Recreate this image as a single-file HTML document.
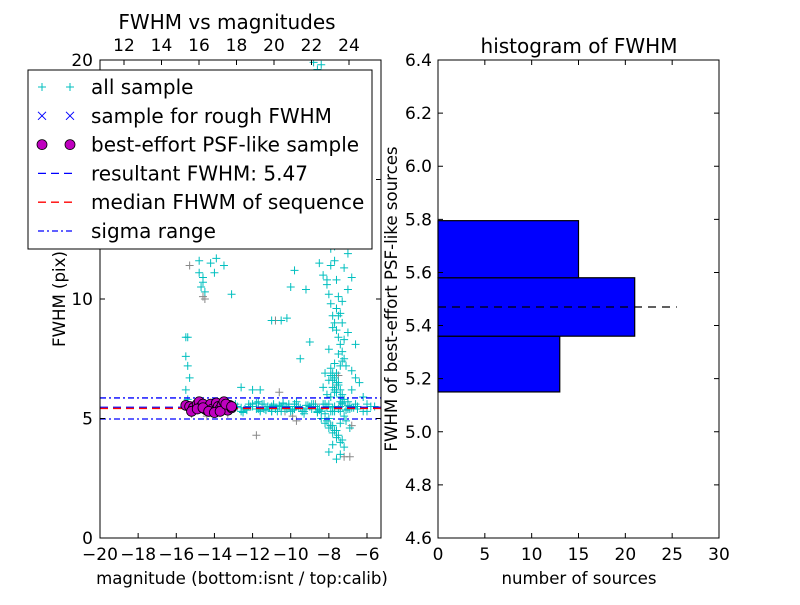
<!DOCTYPE html>
<html><head><meta charset="utf-8"><style>
body{margin:0;background:#fff}
svg{font-family:"DejaVu Sans","Liberation Sans",sans-serif}
</style></head><body>
<svg id="c" width="800" height="600" xmlns="http://www.w3.org/2000/svg"></svg>
<script>
// ---- left scatter data ----
const allX=[-15.5,-15.4,-15.5,-15.4,-15.3,-15.5,-15.4,-14.8,-14.8,-14.6,-14.6,-14.7,-14.5,-14.2,-14.0,-13.9,-13.5,-13.1,-12.6,-12.0,-11.6,-11.0,-10.5,-10.2,-10.0,-9.8,-9.5,-9.2,-9.0,
-8.8,-8.6,-8.5,-8.4,-8.3,-8.2,-8.1,-8.0,-7.9,-7.8,-7.7,-7.6,-7.5,-7.4,-7.3,-7.2,-7.0,-6.8,-6.6,-6.4,-6.2,-6.0,
-8.5,-8.3,-8.1,-8.0,-7.9,-7.8,-7.7,-7.6,-7.5,-7.4,-7.3,-7.2,-7.1,-7.9,-7.8,-7.7,-7.6,-7.5,-7.4,-8.2,-8.0,-7.8,-7.6,-7.4,-7.2,-7.0,-6.8,-6.6,-8.3,-8.1,-7.9,-7.7,-7.5,-7.3,
-8.4,-8.2,-8.0,-7.8,-7.6,-7.4,-7.2,-8.1,-7.9,-7.7,-7.5,-7.3,-7.1,-6.9,-8.0,-7.8,-7.6,-7.4,-8.2,-8.0,-7.8,-7.6,-7.4,-7.2,
-12.8,-12.4,-12.0,-11.6,-11.2,-10.8,-10.4,-10.0,-9.6,-9.2,-8.8,-8.4,-12.6,-12.2,-11.8,-11.4,-11.0,-10.6,-10.2,-9.8,-9.4,-9.0,-8.6,-8.2,-7.8,-7.4,-7.0,-6.6,-6.2,-5.8,
-12.9,-12.5,-12.1,-11.7,-11.3,-10.9,-10.5,-10.1,-9.7,-9.3,-8.9,-8.5,-8.1,-7.7,-7.3,-6.9,-6.5,-6.0,-5.6,
-7.9,-7.7,-7.5,-7.3,-7.1,-8.0,-7.8,-7.6,-7.4,-7.2,-7.0,-6.8,-6.6,-7.6,-7.3,-7.0,-7.5,-7.2,
-12.6,-12.3,-12.0,-11.7,-11.5,-11.3,-11.1,-10.9,-10.7,-10.5,-10.3,-10.1,-9.9,-9.7,-9.5,-9.3,-9.1,-8.9,-8.7,-8.5,-8.3,-8.1,-7.9,-7.7,-7.5,-7.3,-7.1,-6.9,-6.7,-6.5,
-12.5,-12.1,-11.8,-11.4,-11.0,-10.6,-10.2,-9.8,-9.4,-9.0,-8.6,-8.2,-7.8,-7.4,-7.0,-12.2,-11.6,-11.0,-10.4,-9.8,-9.2,-8.6,-8.0,-7.4,-6.8,
-8.1,-7.9,-7.7,-7.5,-7.3,-8.0,-7.8,-7.6,-7.4,-8.1,-7.9,-7.7,-7.5,-7.3,-8.0,-7.8,-7.6,-7.9,-7.7,-7.5,-7.8,-7.6,-7.4,-7.7,-7.5];
const allY=[8.4,8.4,7.6,7.2,6.7,6.2,5.8,11.6,11.1,10.9,10.7,10.5,10.3,11.5,11.1,11.7,11.4,10.2,6.3,6.2,6.2,9.1,9.1,9.2,10.5,11.2,7.5,10.4,8.2,
19.9,19.6,18.8,19.8,17.6,16.5,15.6,14.3,13.2,12.4,11.6,10.8,10.1,9.4,9.0,8.3,8.6,7.0,8.1,6.5,5.9,5.6,
11.5,11.0,10.6,10.2,9.8,9.3,9.0,8.7,8.4,8.1,7.8,7.5,7.2,7.1,6.9,6.7,6.5,6.4,6.2,6.9,6.6,6.3,6.1,5.9,5.8,5.7,6.2,6.7,6.3,6.0,5.9,6.1,6.4,6.0,
5.0,4.8,4.6,4.4,4.2,4.0,3.8,4.9,4.7,4.5,4.3,4.1,4.9,4.6,3.6,3.9,3.3,3.5,5.2,5.0,4.7,4.5,4.8,5.1,
5.5,5.4,5.6,5.3,5.5,5.4,5.6,5.3,5.5,5.4,5.6,5.3,5.3,5.5,5.4,5.6,5.3,5.5,5.4,5.6,5.3,5.5,5.4,5.6,5.3,5.5,5.4,5.6,5.3,5.5,
5.6,5.3,5.5,5.7,5.4,5.6,5.3,5.5,5.7,5.2,5.6,5.4,5.5,5.3,5.6,5.4,5.5,5.3,5.5,
12.1,13.3,14.6,12.8,15.2,16.8,17.5,13.9,18.6,12.4,11.9,10.9,13.1,9.6,9.9,10.4,9.3,11.3,
5.45,5.35,5.5,5.4,5.6,5.35,5.45,5.55,5.3,5.5,5.4,5.6,5.35,5.5,5.45,5.3,5.55,5.4,5.5,5.35,5.6,5.45,5.3,5.5,5.4,5.65,5.35,5.5,5.45,5.4,
5.25,5.5,5.65,5.4,5.3,5.55,5.45,5.6,5.3,5.5,5.25,5.6,5.45,5.3,5.55,5.6,5.35,5.5,5.65,5.4,5.55,5.3,5.6,5.7,5.45,
14.8,15.9,17.1,18.3,19.4,13.6,12.9,14.1,16.2,10.8,11.4,12.2,13.4,7.4,7.9,8.8,9.6,6.8,7.3,7.7,6.6,6.9,7.2,6.2,6.5];
const greyX=[-15.3,-15.2,-14.6,-14.5,-14.4,-13.3,-12.2,-11.8,-10.8,-10.6,-10.3,-9.9,-9.7,-8.7,-7.9,-7.6,-7.2,-6.8,-6.9,-7.5];
const greyY=[11.4,5.2,10.1,10.0,5.1,5.2,5.5,4.3,9.1,6.1,5.3,5.1,4.9,5.6,4.7,6.4,3.4,4.7,3.4,6.8];
const bestX=[-15.5,-15.3,-15.1,-14.9,-14.8,-14.7,-14.6,-14.5,-14.4,-14.3,-14.2,-14.1,-14.0,-13.9,-13.8,-13.7,-13.6,-13.5,-13.4,-13.3,-13.2,-13.1,-15.2,-14.9,-14.6,-14.3,-14.0,-13.7,-13.4,-13.1];
const bestY=[5.55,5.5,5.45,5.6,5.7,5.5,5.6,5.4,5.35,5.5,5.6,5.4,5.3,5.65,5.5,5.4,5.55,5.7,5.5,5.35,5.55,5.45,5.3,5.4,5.45,5.3,5.25,5.3,5.6,5.5];
const resultFWHM=5.47, medianFWHM=5.42, sigmaLo=4.98, sigmaHi=5.86;
const xTicks=[-20,-18,-16,-14,-12,-10,-8,-6];
const yTicks=[0,5,10,15,20];
const topTicks=[12,14,16,18,20,22,24];
// ---- histogram data ----
const binEdges=[5.15,5.36,5.58,5.795];
const binCounts=[13,21,15];
const hxTicks=[0,5,10,15,20,25,30];
const hyTicks=[4.6,4.8,5.0,5.2,5.4,5.6,5.8,6.0,6.2,6.4];

const svg=document.getElementById('c');const NS='http://www.w3.org/2000/svg';
function el(t,a,p){const e=document.createElementNS(NS,t);for(const k in a)e.setAttribute(k,a[k]);(p||svg).appendChild(e);return e;}
function txt(s,a,p){const e=el('text',a,p);e.textContent=s;return e;}
const TF=17, LF=16.6, TTF=20;
// left axes
const L={x0:100,x1:381,y0:538,y1:60};
const sx=v=>L.x0+(v+20)*(267/14), sy=v=>L.y0-v*(478/20);
const tx=v=>124+(v-12)*(225/12);
const gL=el('g',{});
el('defs',{}).innerHTML='<clipPath id="cl"><rect x="100" y="60" width="281" height="478"/></clipPath>';
const gP=el('g',{'clip-path':'url(#cl)'},gL);
function line(y,c,dash,n){const l=el('line',{x1:L.x0,x2:L.x1,y1:sy(y),y2:sy(y),stroke:c,'stroke-width':1.3,'stroke-dasharray':dash},gP);}
greyX.forEach((x,i)=>{const p=el('path',{d:`M${sx(x)-4},${sy(greyY[i])}h8M${sx(x)},${sy(greyY[i])-4}v8`,stroke:'#888','stroke-width':1},gP);});
allX.forEach((x,i)=>{const p=el('path',{d:`M${sx(x)-4},${sy(allY[i])}h8M${sx(x)},${sy(allY[i])-4}v8`,stroke:'#00bfbf','stroke-width':1},gP);});
line(sigmaHi,'#0000ff','6,3,2,3','sigma-high-line');line(sigmaLo,'#0000ff','6,3,2,3','sigma-low-line');
line(resultFWHM,'#0000ff','8,5','resultant-fwhm-line');
line(medianFWHM,'#ff0000','8,5','median-fwhm-line');
bestX.forEach((x,i)=>{const c=el('circle',{cx:sx(x),cy:sy(bestY[i]),r:5,fill:'#bf00bf',stroke:'#000','stroke-width':0.8},gP);});
el('rect',{x:L.x0,y:L.y1,width:281,height:478,fill:'none',stroke:'#000'},gL);
xTicks.forEach(v=>{const x=sx(v);el('path',{d:`M${x},538v-5`,stroke:'#000'},gL);txt('\u2212'+Math.abs(v),{x:x,y:560,'font-size':TF,'text-anchor':'middle'},gL);});
yTicks.forEach(v=>{const y=sy(v);el('path',{d:`M100,${y}h5M381,${y}h-5`,stroke:'#000'},gL);txt(v,{x:93,y:y+6,'font-size':TF,'text-anchor':'end'},gL);});
topTicks.forEach(v=>{const x=tx(v);el('path',{d:`M${x},60v5`,stroke:'#000'},gL);txt(v,{x:x,y:51,'font-size':TF,'text-anchor':'middle'},gL);});
txt('FWHM vs magnitudes',{x:227,y:29,'font-size':TTF,'text-anchor':'middle'},gL);
txt('magnitude (bottom:isnt / top:calib)',{x:242,y:584,'font-size':LF,'text-anchor':'middle'},gL);
txt('FWHM (pix)',{x:0,y:0,'font-size':LF,'text-anchor':'middle',transform:'translate(65,299) rotate(-90)'},gL);
// legend
const lg=el('g',{},gL);
el('rect',{x:28,y:70,width:344,height:179,fill:'#fff',stroke:'#000'},lg);
const items=['all sample','sample for rough FWHM','best-effort PSF-like sample','resultant FWHM: 5.47','median FHWM of sequence','sigma range'];
items.forEach((s,i)=>{const y=87+i*28.8;const g=el('g',{},lg);
 if(i==0)[42,70].forEach(x=>el('path',{d:`M${x-4},${y}h8M${x},${y-4}v8`,stroke:'#00bfbf'},g));
 if(i==1)[42,70].forEach(x=>el('path',{d:`M${x-4},${y-4}l8,8M${x-4},${y+4}l8,-8`,stroke:'#0000ff'},g));
 if(i==2)[42,70].forEach(x=>el('circle',{cx:x,cy:y,r:5,fill:'#bf00bf',stroke:'#000','stroke-width':0.8},g));
 if(i>=3){const c=i==4?'#ff0000':'#0000ff';el('line',{x1:38,x2:74,y1:y,y2:y,stroke:c,'stroke-width':1.3,'stroke-dasharray':i==5?'6,3,2,3':'8,5'},g);}
 txt(s,{x:91,y:y+7,'font-size':20},g);});
// histogram
const H={x0:438,x1:719,y0:538,y1:60};
const hx=v=>H.x0+v*(281/30), hy=v=>H.y0-(v-4.6)*(478/1.8);
const gH=el('g',{});
binCounts.forEach((c,i)=>{const r=el('rect',{x:hx(0),y:hy(binEdges[i+1]),width:hx(c)-hx(0),height:hy(binEdges[i])-hy(binEdges[i+1]),fill:'#0000ff',stroke:'#000','stroke-width':1.2},gH);});
const dl=el('line',{x1:hx(0),x2:hx(25.5),y1:hy(resultFWHM),y2:hy(resultFWHM),stroke:'#000','stroke-width':1.3,'stroke-dasharray':'8,6'},gH);
el('rect',{x:H.x0,y:H.y1,width:281,height:478,fill:'none',stroke:'#000'},gH);
hxTicks.forEach(v=>{const x=hx(v);el('path',{d:`M${x},538v-5M${x},60v5`,stroke:'#000'},gH);txt(v,{x:x,y:560,'font-size':TF,'text-anchor':'middle'},gH);});
hyTicks.forEach(v=>{const y=hy(v);el('path',{d:`M438,${y}h5M719,${y}h-5`,stroke:'#000'},gH);txt(v.toFixed(1),{x:432,y:y+6,'font-size':TF,'text-anchor':'end'},gH);});
txt('histogram of FWHM',{x:579,y:53,'font-size':TTF,'text-anchor':'middle'},gH);
txt('number of sources',{x:579,y:584,'font-size':LF,'text-anchor':'middle'},gH);
txt('FWHM of best-effort PSF-like sources',{x:0,y:0,'font-size':LF,'text-anchor':'middle',transform:'translate(397,299) rotate(-90)'},gH);
</script>
</body></html>
